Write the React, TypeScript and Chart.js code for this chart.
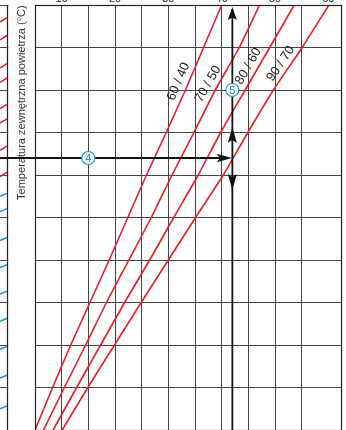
import React, { useEffect, useRef } from 'react';
import { Chart, registerables } from 'chart.js';

Chart.register(...registerables);

// Outdoor temperature (y axis, °C) at which each curve value is read
const outdoorTemps = [-30, -25, -20, -15, -10, -5, 0, 5, 10, 15, 20];
// Heating curves: water temperature (x axis, °C) at each outdoor temperature
const curve6040 = [40.0, 36.6, 33.2, 29.6, 25.9, 22.4, 18.9, 15.3, 11.7, 8.3, 5.0];
const curve7050 = [47.1, 43.3, 38.8, 34.8, 30.7, 26.8, 22.6, 18.4, 14.5, 10.5, 6.6];
const curve8060 = [53.6, 49.0, 44.4, 39.8, 35.6, 31.0, 26.5, 21.8, 17.3, 12.8, 8.4];
const curve9070 = [60.1, 55.1, 49.7, 44.9, 40.3, 35.1, 30.0, 24.9, 19.9, 14.9, 10.1];
const curveLabels = ['60 / 40', '70 / 50', '80 / 60', '90 / 70'];
// outdoor temperature where each curve label sits
const curveLabelAt = [-21.0, -20.7, -22.8, -23.1];

const topTickValues = [10, 20, 30, 40, 50, 60];
const topTickLabels = ['10', '20', '30', '40', '50', '60'];

// Reading example
const readingWater = 42;
const readingOutdoor = -12;
const markerValues = [
  { x: 15, y: -12, label: '4' },
  { x: 42, y: -20, label: '5' },
];

const yTitle = 'Temperatura zewnętrzna powietrza (°C)';

// Neighbouring panel (left strip): line ends at its left (0) and right (1) edges
const stripRedLeft = [-28.0, -25.9, -22.6, -20.9, -17.8, -16.1, -12.9, -9.8];
const stripRedRight = [-28.6, -26.5, -23.2, -21.5, -18.4, -16.7, -13.5, -10.4];
const stripBlueLeft = [-7.5, -5.7, -2.3, 0.9, 4.0, 7.2, 10.5, 13.9, 17.5];
const stripBlueRight = [-7.9, -6.1, -2.7, 0.5, 3.6, 6.8, 10.1, 13.5, 17.1];

const RED = '#ec1c24';
const BLUE = '#1b8fd2';
const GRID = '#454545';
const FONT = '"Liberation Sans", Arial, Helvetica, sans-serif';

function arrowHead(ctx: CanvasRenderingContext2D, tipX: number, tipY: number, dirX: number, dirY: number, len: number, half: number) {
  const bx = tipX - dirX * len;
  const by = tipY - dirY * len;
  const px = -dirY;
  const py = dirX;
  ctx.beginPath();
  ctx.moveTo(tipX, tipY);
  ctx.lineTo(bx + px * half, by + py * half);
  ctx.lineTo(bx + dirX * len * 0.2, by + dirY * len * 0.2);
  ctx.lineTo(bx - px * half, by - py * half);
  ctx.closePath();
  ctx.fill();
}

const overlayPlugin = {
  id: 'overlay',
  afterDatasetsDraw(chart: any) {
    const ctx: CanvasRenderingContext2D = chart.ctx;
    const xs = chart.scales.x;
    const ys = chart.scales.y;
    const area = chart.chartArea;
    ctx.save();

    // plot frame
    ctx.strokeStyle = '#222';
    ctx.lineWidth = 1.2;
    ctx.strokeRect(Math.round(area.left) + 0.5, Math.round(area.top) + 0.5, Math.round(area.right - area.left) - 1, area.bottom - area.top);

    // top tick labels
    ctx.fillStyle = '#222';
    ctx.font = `11px ${FONT}`;
    ctx.textAlign = 'center';
    ctx.textBaseline = 'alphabetic';
    topTickValues.forEach((v, i) => {
      ctx.fillText(topTickLabels[i], xs.getPixelForValue(v), 2);
    });

    // curve labels
    chart.data.datasets.forEach((ds: any, i: number) => {
      const pts = ds.data;
      const yv = curveLabelAt[i];
      let k = 0;
      while (k < pts.length - 2 && pts[k + 1].y < yv) k++;
      const a = pts[k];
      const b = pts[k + 1];
      const t = (yv - a.y) / (b.y - a.y);
      const xv = a.x + (b.x - a.x) * t;
      const ax = xs.getPixelForValue(a.x), ay = ys.getPixelForValue(a.y);
      const bx = xs.getPixelForValue(b.x), by = ys.getPixelForValue(b.y);
      const ang = Math.atan2(ay - by, ax - bx);
      const cx = xs.getPixelForValue(xv) - 10.5;
      const cy = ys.getPixelForValue(yv);
      ctx.save();
      ctx.translate(cx, cy);
      ctx.rotate(ang);
      ctx.fillStyle = '#222';
      ctx.font = `13px ${FONT}`;
      ctx.textAlign = 'center';
      ctx.textBaseline = 'middle';
      ctx.fillText(curveLabels[i], 0, 0);
      ctx.restore();
    });

    // y-axis title (outside plot)
    ctx.save();
    ctx.translate(21.5, 200);
    ctx.rotate(-Math.PI / 2);
    ctx.font = `11px ${FONT}`;
    const w = ctx.measureText(yTitle).width;
    const fs = 11 * 195 / w;
    ctx.font = `${fs.toFixed(2)}px ${FONT}`;
    ctx.fillStyle = '#333';
    ctx.textAlign = 'left';
    ctx.textBaseline = 'middle';
    ctx.fillText(yTitle, 0, 0);
    ctx.restore();

    // reading lines
    const vx = xs.getPixelForValue(readingWater);
    const hy = ys.getPixelForValue(readingOutdoor);
    ctx.strokeStyle = '#111';
    ctx.fillStyle = '#111';
    ctx.lineWidth = 1.8;
    ctx.beginPath();
    ctx.moveTo(vx, area.top + 4);
    ctx.lineTo(vx, area.bottom);
    ctx.stroke();
    ctx.beginPath();
    ctx.moveTo(0, hy);
    ctx.lineTo(vx - 6, hy);
    ctx.stroke();
    arrowHead(ctx, vx, area.top + 2, 0, -1, 13, 4.5);
    arrowHead(ctx, vx, hy - 31, 0, -1, 16, 4.5);
    arrowHead(ctx, vx, hy + 32, 0, 1, 16, 4.5);
    arrowHead(ctx, vx - 0.5, hy, 1, 0, 15, 4.2);

    // circled markers
    markerValues.forEach((m) => {
      const px = xs.getPixelForValue(m.x);
      const py = ys.getPixelForValue(m.y);
      ctx.beginPath();
      ctx.arc(px, py, 6.5, 0, Math.PI * 2);
      ctx.fillStyle = '#fff';
      ctx.fill();
      ctx.strokeStyle = BLUE;
      ctx.lineWidth = 1.1;
      ctx.stroke();
      ctx.fillStyle = BLUE;
      ctx.font = `11px ${FONT}`;
      ctx.textAlign = 'center';
      ctx.textBaseline = 'middle';
      ctx.fillText(m.label, px, py + 0.5);
    });

    ctx.restore();
  },
};

const stripPlugin = {
  id: 'stripFrame',
  afterDatasetsDraw(chart: any) {
    const ctx: CanvasRenderingContext2D = chart.ctx;
    const area = chart.chartArea;
    ctx.save();
    ctx.strokeStyle = '#222';
    ctx.lineWidth = 1.2;
    ctx.beginPath();
    ctx.moveTo(Math.round(area.right) - 0.5, area.top);
    ctx.lineTo(Math.round(area.right) - 0.5, area.bottom);
    ctx.stroke();
    ctx.restore();
  },
};

export default function App() {
  const mainRef = useRef<HTMLCanvasElement | null>(null);
  const stripRef = useRef<HTMLCanvasElement | null>(null);

  useEffect(() => {
    document.body.style.margin = '0';
    const curves = [curve6040, curve7050, curve8060, curve9070];
    const main = new Chart(mainRef.current as HTMLCanvasElement, {
      type: 'line',
      data: {
        datasets: curves.map((c, i) => ({
          label: curveLabels[i],
          data: outdoorTemps.map((t, k) => ({ x: c[k], y: t })),
          borderColor: RED,
          borderWidth: 1.6,
          pointRadius: 0,
          tension: 0.2,
          fill: false,
        })),
      },
      options: {
        animation: false,
        responsive: false,
        events: [],
        layout: { autoPadding: false, padding: { left: 35, top: 5, right: 4.3, bottom: 0 } },
        plugins: { legend: { display: false }, tooltip: { enabled: false } },
        scales: {
          x: {
            type: 'linear',
            min: 5,
            max: 62.5,
            ticks: { display: false, stepSize: 5 },
            grid: { color: GRID, lineWidth: 1, drawTicks: false },
            border: { display: false },
            afterFit: (s: any) => { s.height = 0; },
          },
          y: {
            type: 'linear',
            min: -30,
            max: 20,
            reverse: true,
            ticks: { display: false, stepSize: 5 },
            grid: { color: GRID, lineWidth: 1, drawTicks: false },
            border: { display: false },
            afterFit: (s: any) => { s.width = 0; },
          },
        },
      } as any,
      plugins: [overlayPlugin],
    });

    const stripSets = [
      ...stripRedLeft.map((l, i) => ({ l, r: stripRedRight[i], c: RED })),
      ...stripBlueLeft.map((l, i) => ({ l, r: stripBlueRight[i], c: BLUE })),
    ];
    const strip = new Chart(stripRef.current as HTMLCanvasElement, {
      type: 'line',
      data: {
        datasets: stripSets.map((s) => ({
          data: [{ x: 0, y: s.l }, { x: 1, y: s.r }],
          borderColor: s.c,
          borderWidth: 1.5,
          pointRadius: 0,
        })),
      },
      options: {
        animation: false,
        responsive: false,
        events: [],
        layout: { autoPadding: false, padding: { left: 0, top: 5, right: 0.7, bottom: 0 } },
        plugins: { legend: { display: false }, tooltip: { enabled: false } },
        scales: {
          x: {
            type: 'linear', min: 0, max: 1,
            ticks: { display: false },
            grid: { display: false },
            border: { display: false },
            afterFit: (s: any) => { s.height = 0; },
          },
          y: {
            type: 'linear', min: -30, max: 20, reverse: true,
            ticks: { display: false, stepSize: 5 },
            grid: { color: GRID, lineWidth: 1, drawTicks: false },
            border: { display: false },
            afterFit: (s: any) => { s.width = 0; },
          },
        },
      } as any,
      plugins: [stripPlugin],
    });

    return () => {
      main.destroy();
      strip.destroy();
    };
  }, []);

  return (
    <div style={{ position: 'relative', width: 346, height: 430, background: '#fff' }}>
      <canvas ref={stripRef} width={9} height={430} style={{ position: 'absolute', left: 0, top: 0, display: 'block' }} />
      <canvas ref={mainRef} width={346} height={430} style={{ position: 'absolute', left: 0, top: 0, display: 'block' }} />
    </div>
  );
}
